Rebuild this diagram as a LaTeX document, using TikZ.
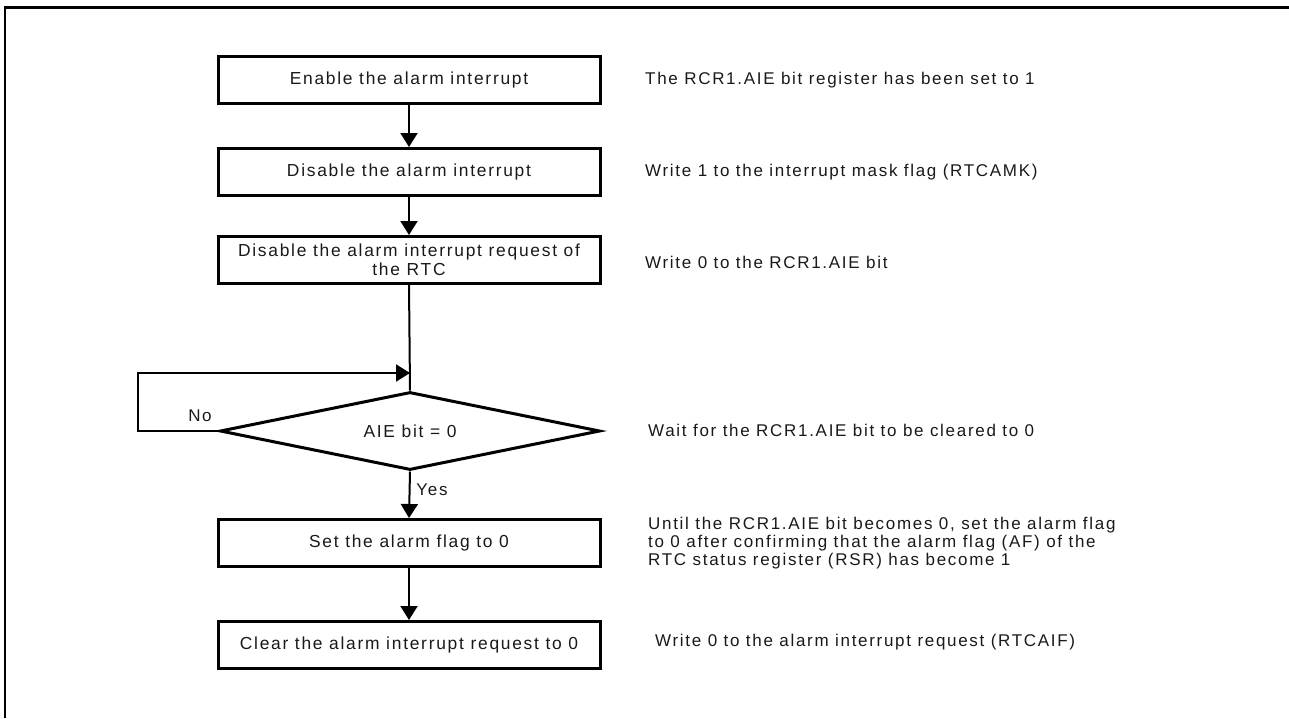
\documentclass[tikz,border=0pt]{standalone}
\usepackage{fontspec}
\setmainfont{Liberation Sans}[LetterSpace=10]
\usetikzlibrary{arrows.meta,shapes.geometric}
\begin{document}
\begin{tikzpicture}[x=1pt,y=-1pt,
  txt/.style={font=\fontsize{17}{18}\selectfont, text=black!90},
  btxt/.style={font=\fontsize{17.4}{19}\selectfont, text=black!90},
  box/.style={draw, line width=3pt, minimum width=382pt, minimum height=47pt, inner sep=0pt, align=center, btxt},
  dec/.style={draw, diamond, line width=3pt, aspect=4.87, minimum width=380pt, minimum height=78pt, inner sep=0pt, btxt},
  note/.style={anchor=west, align=left, inner sep=0pt, txt},
  lbl/.style={inner sep=0pt, txt},
  conn/.style={line width=2pt, -{Triangle[length=14pt,width=17pt]}},
  plain/.style={line width=2pt}]
\useasboundingbox (0,0) rectangle (1289,718);
\draw[line width=3pt] (3.5,7) -- (1289,7);
\draw[line width=2.5pt] (5,7) -- (5,718);

\node[box] (b1) at (409,80) {Enable the alarm interrupt};
\node[box] (b2) at (409,172) {Disable the alarm interrupt};
\node[box] (b3) at (409,260) {Disable the alarm interrupt request of\\the RTC};
\node[dec] (d) at (410,431) {AIE bit = 0};
\node[box] (b5) at (409,543) {Set the alarm flag to 0};
\node[box] (b6) at (409,645) {Clear the alarm interrupt request to 0};

\coordinate (lp) at (138,373);
\draw[conn] (b1) -- (b2);
\draw[conn] (b2) -- (b3);
\draw[plain] (b3.south) -- (d.north);
\draw[conn] (d.west) -| (lp) -- (lp -| d.north);
\draw[conn] (d.south) -- (b5.north);
\draw[conn] (b5) -- (b6);

\node[lbl] (no) at (200,416) {No};
\node[lbl] (yes) at (432,490) {Yes};

\node[note] (n1) at (645,80) {The RCR1.AIE bit register has been set to 1};
\node[note] (n2) at (645,172) {Write 1 to the interrupt mask flag (RTCAMK)};
\node[note] (n3) at (645,262) {Write 0 to the RCR1.AIE bit};
\node[note] (n4) at (648,430) {Wait for the RCR1.AIE bit to be cleared to 0};
\node[note] (n5) at (648,543) {Until the RCR1.AIE bit becomes 0, set the alarm flag\\to 0 after confirming that the alarm flag (AF) of the\\RTC status register (RSR) has become 1};
\node[note] (n6) at (655,642) {Write 0 to the alarm interrupt request (RTCAIF)};
\end{tikzpicture}
\end{document}
